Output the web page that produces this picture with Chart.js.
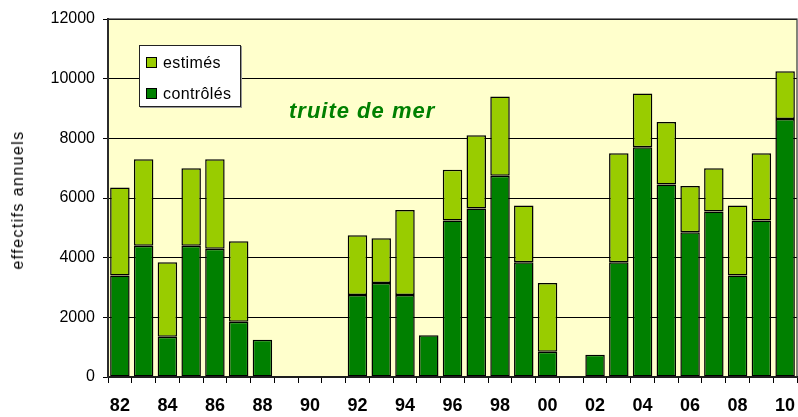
<!DOCTYPE html>
<html>
<head>
<meta charset="utf-8">
<script src="https://cdn.jsdelivr.net/npm/chart.js@4/dist/chart.umd.min.js"></script>
<style>
  html, body { margin: 0; padding: 0; background: #ffffff; }
  #wrap { position: relative; width: 798px; height: 417px; font-family: "Liberation Sans", Arial, sans-serif; }
  #c { position: absolute; left: 0; top: 0; }
  #ytitle {
    position: absolute; left: 18px; top: 200px;
    transform: translate(-50%, -50%) rotate(-90deg);
    white-space: nowrap; font-size: 16px; letter-spacing: 1.4px; color: #000;
  }
  #legend {
    position: absolute; left: 139px; top: 45px; width: 100px; height: 60px;
    background: #fff; border: 1px solid #222; box-shadow: 1px 1px 0 #999;
  }
  .item { position: absolute; left: 6px; font-size: 16px; letter-spacing: 0.4px; color: #000; line-height: 18px; }
  .sw { display: inline-block; width: 9px; height: 9px; border: 1px solid #000; margin-right: 6px; vertical-align: 0px; }
  #title {
    position: absolute; left: 289px; top: 98px; white-space: nowrap;
    font-size: 22px; font-weight: bold; font-style: italic; letter-spacing: 1px; color: #008000;
  }
</style>
</head>
<body>
<div id="wrap">
  <canvas id="c" width="798" height="417"></canvas>
  <div id="ytitle">effectifs annuels</div>
  <div id="legend">
    <div class="item" style="top:8px"><span class="sw" style="background:#99cc00"></span>estimés</div>
    <div class="item" style="top:39px"><span class="sw" style="background:#008000"></span>contrôlés</div>
  </div>
  <div id="title">truite de mer</div>
</div>
<script>
const years = ['82','83','84','85','86','87','88','89','90','91','92','93','94','95','96','97','98','99','00','01','02','03','04','05','06','07','08','09','10'];
const controles = [3400,4400,1350,4400,4300,1850,1250,0,0,0,2750,3150,2750,1400,5250,5650,6750,3850,850,0,750,3850,7700,6450,4850,5550,3400,5250,8650];
const estimes = [2950,2900,2500,2600,3000,2700,0,0,0,0,2000,1500,2850,0,1700,2450,2650,1900,2300,0,0,3650,1800,2100,1550,1450,2350,2250,1600];
const yTicks = [0,2000,4000,6000,8000,10000,12000];

const plotBg = {
  id: 'plotBg',
  beforeDraw(chart) {
    const a = chart.chartArea, ctx = chart.ctx;
    ctx.save();
    ctx.fillStyle = '#ffffcc';
    ctx.fillRect(a.left, a.top, a.right - a.left, a.bottom - a.top);
    ctx.restore();
  },
  afterDraw(chart) {
    const a = chart.chartArea, ctx = chart.ctx;
    ctx.save();
    ctx.strokeStyle = '#333';
    ctx.lineWidth = 1.2;
    ctx.strokeRect(a.left, a.top, a.right - a.left, a.bottom - a.top);
    ctx.restore();
  }
};

new Chart(document.getElementById('c'), {
  type: 'bar',
  data: {
    labels: years,
    datasets: [
      { label: 'contrôlés', data: controles, backgroundColor: '#008000', borderColor: '#000', borderWidth: 1.5, borderSkipped: false },
      { label: 'estimés', data: estimes, backgroundColor: '#99cc00', borderColor: '#000', borderWidth: 1.5, borderSkipped: false }
    ]
  },
  options: {
    responsive: false,
    devicePixelRatio: 1,
    animation: false,
    layout: { padding: { top: 19, right: 1, left: 0, bottom: 0 } },
    datasets: { bar: { categoryPercentage: 1.0, barPercentage: 0.82 } },
    plugins: { legend: { display: false }, tooltip: { enabled: false } },
    scales: {
      x: {
        stacked: true,
        afterFit(s) { s.height = 40; s.paddingLeft = 0; s.paddingRight = 0; },
        grid: { offset: true, drawOnChartArea: false, color: '#000', tickLength: 6, lineWidth: 1 },
        border: { display: true, color: '#000', width: 1.2 },
        ticks: {
          autoSkip: false, maxRotation: 0, minRotation: 0, padding: 12, color: '#000',
          font: { family: '"Liberation Sans", Arial, sans-serif', size: 18, weight: 'bold' },
          callback(v, i) { return i % 2 === 0 ? years[i] : ''; }
        }
      },
      y: {
        stacked: true, min: 0, max: 12000,
        afterFit(s) { s.width = 108; s.paddingTop = 0; s.paddingBottom = 0; },
        afterBuildTicks(s) { s.ticks = yTicks.map(v => ({ value: v })); },
        grid: { color: '#000', lineWidth: 1, tickLength: 5 },
        border: { display: true, color: '#222', width: 2 },
        ticks: {
          padding: 8, color: '#000',
          font: { family: '"Liberation Sans", Arial, sans-serif', size: 16 },
          callback(v) { return String(v); }
        }
      }
    }
  },
  plugins: [plotBg]
});
</script>
</body>
</html>
